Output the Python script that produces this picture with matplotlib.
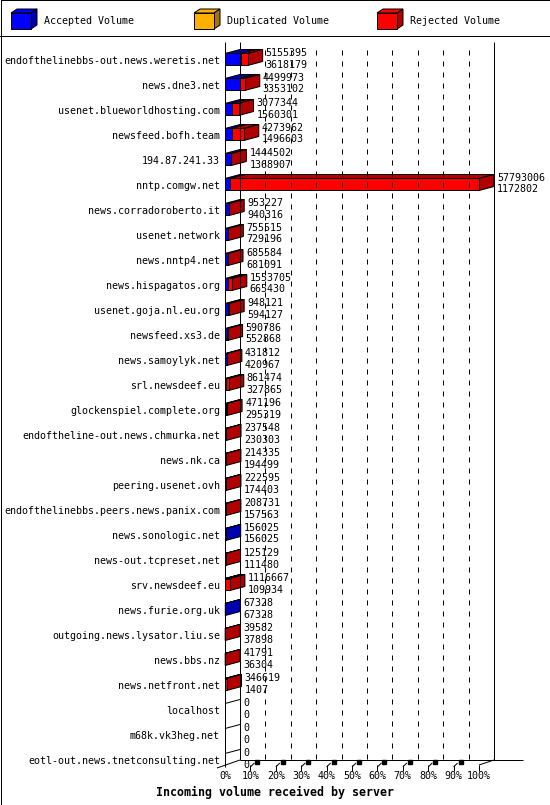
import matplotlib
matplotlib.use('Agg')
import matplotlib.pyplot as plt
from matplotlib.patches import Polygon, Rectangle
from matplotlib.lines import Line2D

# ---------------- data ----------------
servers = [
    "endofthelinebbs-out.news.weretis.net", "news.dne3.net", "usenet.blueworldhosting.com",
    "newsfeed.bofh.team", "194.87.241.33", "nntp.comgw.net", "news.corradoroberto.it",
    "usenet.network", "news.nntp4.net", "news.hispagatos.org", "usenet.goja.nl.eu.org",
    "newsfeed.xs3.de", "news.samoylyk.net", "srl.newsdeef.eu", "glockenspiel.complete.org",
    "endoftheline-out.news.chmurka.net", "news.nk.ca", "peering.usenet.ovh",
    "endofthelinebbs.peers.news.panix.com", "news.sonologic.net", "news-out.tcpreset.net",
    "srv.newsdeef.eu", "news.furie.org.uk", "outgoing.news.lysator.liu.se", "news.bbs.nz",
    "news.netfront.net", "localhost", "m68k.vk3heg.net", "eotl-out.news.tnetconsulting.net",
]
total_volume = [5155395, 4499973, 3077344, 4273962, 1444502, 57793006, 953227, 755515,
                685584, 1553705, 948121, 590786, 431812, 861474, 471196, 237548, 214335,
                222595, 208731, 156025, 125129, 1116667, 67328, 39582, 41791, 346619, 0, 0, 0]
accepted_volume = [3618179, 3353102, 1560301, 1496603, 1368907, 1172802, 940316, 729196,
                   681091, 665430, 594127, 552868, 420967, 327865, 295319, 230303, 194499,
                   174403, 157563, 156025, 111480, 109934, 67328, 37898, 36304, 1407, 0, 0, 0]
legend_labels = ["Accepted Volume", "Duplicated Volume", "Rejected Volume"]
pct_ticks = list(range(0, 101, 10))
xlabel = "Incoming volume received by server"

# ---------------- style ----------------
W, H = 550, 805
FONT = "DejaVu Sans Mono"
FS = 7.2
LW = 0.72
front_cols = ["#0000FF", "#FFB000", "#FF0000"]
dark_cols = ["#0000B0", "#A87400", "#B00000"]

fig = plt.figure(figsize=(W / 100, H / 100), dpi=100)
fig.patch.set_facecolor("white")
fig.add_artist(Rectangle((0.5 / W, 0.5 / H), (W - 1) / W, (H - 1) / H,
                         transform=fig.transFigure, fill=False, lw=LW, ec="black"))
fig.add_artist(Line2D([0, 1], [1 - 36 / H] * 2, transform=fig.transFigure, color="black", lw=LW))

# ---------------- legend ----------------
lax = fig.add_axes([0, 1 - 36 / H, 1, 36 / H])
lax.set_xlim(0, W)
lax.set_ylim(36, 0)
lax.axis("off")
for i, (lab, fc, dc) in enumerate(zip(legend_labels, front_cols, dark_cols)):
    x0 = 11 + 183 * i
    lax.add_patch(Polygon([(x0, 13), (x0 + 20, 13), (x0 + 26, 9), (x0 + 6, 9)],
                          fc=fc, ec="black", lw=LW))
    lax.add_patch(Polygon([(x0 + 20, 13), (x0 + 26, 9), (x0 + 26, 25), (x0 + 20, 29)],
                          fc=dc, ec="black", lw=LW))
    lax.add_patch(Rectangle((x0, 13), 20, 16, fc=fc, ec="black", lw=LW))
    lax.text(x0 + 33, 21.5, lab, family=FONT, fontsize=FS, ha="left", va="center")

# ---------------- main plot ----------------
n = len(servers)
TOP_PX, BOT_PX = 47, 772
ax = fig.add_axes([225 / W, 1 - BOT_PX / H, 254 / W, (BOT_PX - TOP_PX) / H])
ax.set_xlim(0, 100)
ax.set_ylim(n - 0.5, -0.5)
ax.axis("off")

PXX = 2.54   # px per percent
PXY = 25.0   # px per row
DX = 15 / PXX
DY = 4 / PXY
HH = 6 / PXY


def ry(p):
    return (p - TOP_PX) / PXY - 0.5


def px(p):
    return (p - 225) / PXX


kw = dict(color="black", lw=LW, clip_on=False, solid_capstyle="butt")
# walls
ax.plot([0, 0], [ry(42), ry(767)], **kw)
ax.plot([DX, DX], [ry(42), ry(760)], **kw)
ax.plot([100 + DX, 100 + DX], [ry(42), ry(760)], **kw)
for k in pct_ticks[1:-1]:
    ax.plot([k + DX] * 2, [ry(50), ry(760)], color="black", lw=LW, ls=(0, (5, 6)), clip_on=False)
# floor
ax.plot([px(217), DX], [ry(768), ry(760)], **kw)
ax.plot([DX, px(523)], [ry(760), ry(760)], **kw)
ax.plot([100, 100 + DX], [ry(765), ry(760)], **kw)
for k in pct_ticks[1:]:
    ax.plot([k, k], [ry(765), ry(771)], **kw)
for k in pct_ticks[1:-1]:
    ax.plot([k, k + 4 / PXX], [ry(767), ry(763)], **kw)
    ax.plot([k + 7 / PXX], [ry(762)], marker="s", ms=2.2, color="black", clip_on=False)
for k in pct_ticks:
    ax.text(k, ry(776), f"{k}%", family=FONT, fontsize=FS, ha="center", va="center")

fig.text(275 / W, 1 - 792 / H, xlabel, family=FONT, fontsize=8.4, fontweight="bold",
         ha="center", va="center")

vmax = max(total_volume)
for i, (name, tot, acc) in enumerate(zip(servers, total_volume, accepted_volume)):
    top, bot = i - HH, i + HH
    ax.text(px(220), i + 0.05, name, family=FONT, fontsize=FS, ha="right", va="center")
    t = tot / vmax * 100
    a = acc / vmax * 100
    if tot > 0:
        segs = [(0, a, 0), (a, t, 2)]
        last = 0
        for x0, x1, ci in segs:
            if x1 - x0 <= 0:
                continue
            last = ci
            ax.add_patch(Polygon([(x0, top), (x1, top), (x1 + DX, top - DY), (x0 + DX, top - DY)],
                                 fc=dark_cols[ci], ec="black", lw=LW, clip_on=False))
        ax.add_patch(Polygon([(t, top), (t + DX, top - DY), (t + DX, bot - DY), (t, bot)],
                             fc=dark_cols[last], ec="black", lw=LW, clip_on=False))
        for x0, x1, ci in segs:
            if x1 - x0 <= 0:
                continue
            ax.add_patch(Rectangle((x0, top), x1 - x0, bot - top, fc=front_cols[ci],
                                   ec="black", lw=LW, clip_on=False))
    else:
        ax.plot([0, DX], [top, top - DY], **kw)
    tx = t + DX + 3 / PXX
    ax.text(tx, i - 0.26, str(tot), family=FONT, fontsize=FS, ha="left", va="center")
    ax.text(tx, i + 0.2, str(acc), family=FONT, fontsize=FS, ha="left", va="center")

fig.savefig("out.png", dpi=100, facecolor="white")
